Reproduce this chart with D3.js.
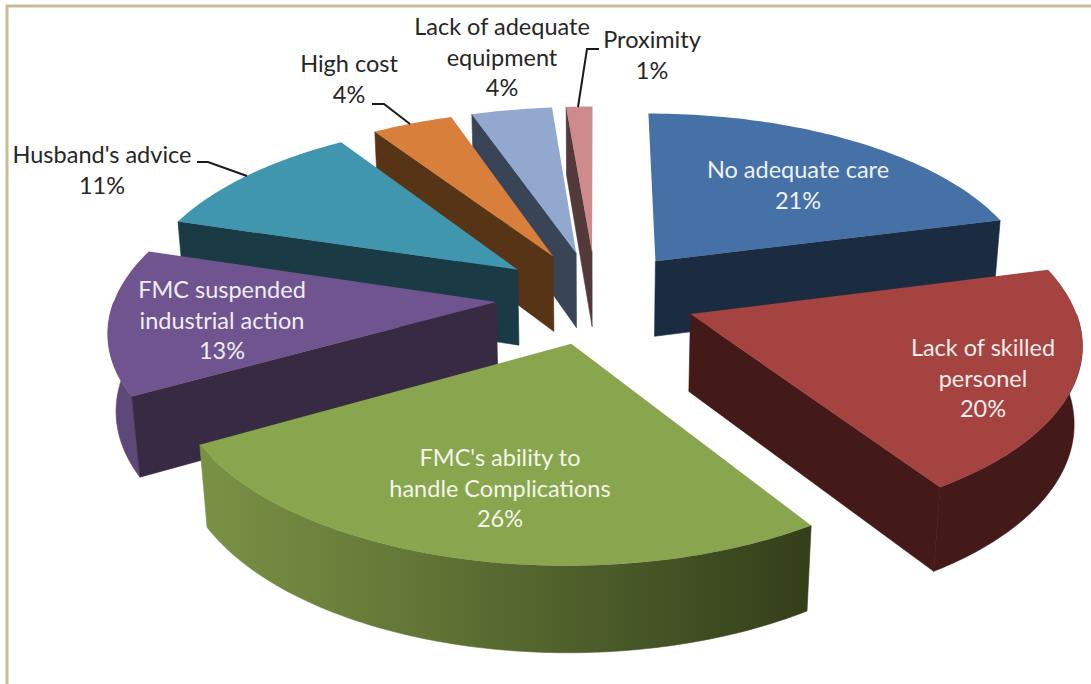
<!DOCTYPE html>
<html><head><meta charset="utf-8">
<script src="https://cdn.jsdelivr.net/npm/d3@7/dist/d3.min.js"></script>
<style>html,body{margin:0;background:#fff;overflow:hidden}svg{display:block}text{font-family:Lato,sans-serif;font-size:23.5px}</style>
</head><body><svg id="c" width="1091" height="684"></svg>
<script>
const categories = ["No adequate care","Lack of skilled personel","FMC's ability to handle Complications","FMC suspended industrial action","Husband's advice","High cost","Lack of adequate equipment","Proximity"];
const shares = [21,20,26,13,11,4,4,1.3];
const percentLabels = ["21%","20%","26%","13%","11%","4%","4%","1%"];
const topColors = ["#4571a7","#a54340","#89a54e","#6f5490","#3f96ae","#d87f3b","#92a8cf","#cd8c8b"];
const wallColors = ["#1b2c42","#43191a","#37421d","#392a44","#1a3a45","#573415","#3a4457","#54393a"];
const outerWallColors = ["#1b2c42","#43191a","url(#greenWall)","#5d4878","#1a3a45","#573415","#3a4457","#54393a"];
const labelLines = [["No adequate care"],["Lack of skilled","personel"],["FMC's ability to","handle Complications"],["FMC suspended","industrial action"],["Husband's advice"],["High cost"],["Lack of adequate","equipment"],["Proximity"]];

// layout
const view = {cx:596, cy:297, R:381, explode:100, depth:88, focal:2450, sinE:0.465};
view.cosE = Math.sqrt(1-view.sinE*view.sinE);
const labelPlace = [
 {x:798,y:178,fill:"#eef2f8"},{x:983,y:356,fill:"#f6ecec"},{x:500,y:466,fill:"#f3f6ea"},{x:222,y:298,fill:"#f1edf5"},
 {x:102,y:163,fill:"#262626"},{x:349,y:72,fill:"#262626"},{x:502,y:35,fill:"#262626"},{x:652,y:48,fill:"#262626"}];
const leaders = [null,null,null,null,
 [[197,162],[208,162],[247,176]],
 [[372,104],[384,104],[410,124]],
 null,
 [[599,49],[587,49],[578,107]]];

function project(x,z,h){
  const d = view.focal + z*view.cosE + h*view.sinE, s = view.focal/d;
  return [view.cx + x*s, view.cy + (-z*view.sinE + h*view.cosE)*s];
}
const svg = d3.select("#c");
const defs = svg.append("defs");
const g0 = defs.append("linearGradient").attr("id","greenWall").attr("gradientUnits","userSpaceOnUse")
  .attr("x1",203).attr("x2",815).attr("y1",0).attr("y2",0);
[[0,"#7a9145"],[0.3,"#667a38"],[0.6,"#4f5f2b"],[1,"#333e1a"]].forEach(s=>g0.append("stop").attr("offset",s[0]).attr("stop-color",s[1]));

// frame
svg.append("rect").attr("x",7).attr("y",6).attr("width",1100).attr("height",700).attr("fill","#fff")
  .attr("stroke","#c6bd97").attr("stroke-width",3);

const pie = d3.pie().sort(null).value(d=>d).startAngle(0).endAngle(2*Math.PI);
const arcs = pie(shares).map((a,i)=>({...a,i}));
const line = d3.line();
const paintOrder = [7,6,5,0,4,3,1,2];

function pt(a,r,th,h){
  const bis=(a.startAngle+a.endAngle)/2;
  const x=view.explode*Math.sin(bis)+r*Math.sin(th);
  const z=view.explode*Math.cos(bis)+r*Math.cos(th);
  return project(x,z,h);
}
function arcPts(a,t0,t1,h){
  const n=Math.max(2,Math.ceil((t1-t0)/0.02));
  return d3.range(n+1).map(k=>pt(a,view.R,t0+(t1-t0)*k/n,h));
}
const closed = p=>line(p)+"Z";
const marks = svg.append("g");
paintOrder.forEach(i=>{
  const a=arcs[i], g=marks.append("g");
  const s=a.startAngle, e=a.endAngle, D=view.depth;
  const t0=Math.max(s,Math.PI/2), t1=Math.min(e,1.5*Math.PI);
  if(t1>t0) g.append("path").attr("fill",outerWallColors[i]).attr("stroke",outerWallColors[i]).attr("stroke-width",0.6)
    .attr("d",closed(arcPts(a,t0,t1,0).concat(arcPts(a,t0,t1,D).reverse())));
  [[s,Math.cos(s-Math.PI/2)],[e,Math.cos(e+Math.PI/2)]].forEach(([th,nz])=>{
    if(nz<0) g.append("path").attr("fill",wallColors[i]).attr("stroke",wallColors[i]).attr("stroke-width",0.6)
      .attr("d",closed([pt(a,0,0,0),pt(a,view.R,th,0),pt(a,view.R,th,D),pt(a,0,0,D)]));
  });
  g.append("path").attr("fill",topColors[i]).attr("d",closed([pt(a,0,0,0)].concat(arcPts(a,s,e,0))));
});
leaders.forEach(l=>{ if(l) svg.append("path").attr("d",line(l)).attr("fill","none").attr("stroke","#1a1a1a").attr("stroke-width",2); });
categories.forEach((c,i)=>{
  const p=labelPlace[i];
  const t=svg.append("text").attr("text-anchor","middle").attr("fill",p.fill);
  labelLines[i].concat([percentLabels[i]]).forEach((s,k)=>{
    t.append("tspan").attr("x",p.x).attr("y",p.y+k*30.7).text(s);
  });
});
</script></body></html>
